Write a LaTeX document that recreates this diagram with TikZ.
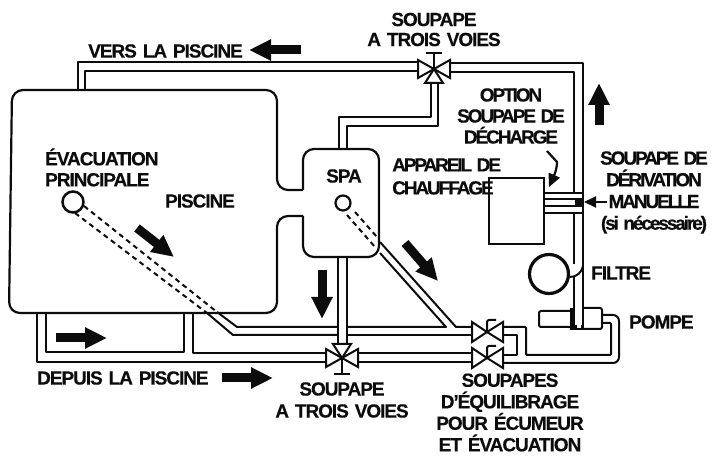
\documentclass[tikz,border=0pt]{standalone}
\usepackage{fontspec}
\setmainfont{Liberation Sans}[LetterSpace=-5.5,WordSpace=1.4,BoldFeatures={FakeBold=0.3}]
\usetikzlibrary{arrows.meta}
\definecolor{inkBlack}{RGB}{12,12,12}
\tikzset{
  pipeline/.style={draw=inkBlack,line width=2pt,line join=round},
  wallline/.style={draw=inkBlack,line width=2.2pt,rounded corners=11pt},
  buried/.style={draw=inkBlack,line width=2pt,dash pattern=on 5pt off 4pt},
  flowarrow/.style={draw=inkBlack,line width=9pt,-{Triangle[length=22pt,width=20pt]},inkBlack},
  caption/.style={font=\bfseries\fontsize{19}{20}\selectfont,text=inkBlack,inner sep=0pt,align=center},
  tightcaption/.style={caption,font=\bfseries\fontsize{19}{#1}\selectfont\addfontfeature{LetterSpace=-11}},
  valvebody/.style={draw=inkBlack,fill=white,line width=2pt,line join=miter}
}
\newcommand{\TroisVoies}[3]{%
\begin{scope}[shift={(#1,#2)},yscale=#3]
  \path[valvebody] (0,0) -- (-16,-9) -- (-16,9) -- cycle;
  \path[valvebody] (0,0) -- (16,-9) -- (16,9) -- cycle;
  \path[valvebody] (0,0) -- (-9,14) -- (9,14) -- cycle;
  \draw[pipeline] (0,0) -- (0,-16) (-8,-16) -- (8,-16);
\end{scope}}
\newcommand{\Equilibrage}[2]{%
\begin{scope}[shift={(#1,#2)}]
  \path[valvebody] (0,0) -- (-15,-10) -- (-15,10) -- cycle;
  \path[valvebody] (0,0) -- (16,-10) -- (16,10) -- cycle;
  \draw[pipeline,rounded corners=2pt] (0,0) -- (0,-12) -- (9,-12);
\end{scope}}
\begin{document}
\begin{tikzpicture}[x=1pt,y=-1pt]
\useasboundingbox (0,0) rectangle (713,457);
% piscine et spa
\draw[wallline] (303,190) -- (277,190) -- (277,90) -- (12,90) -- (9,313) -- (277,313) -- (277,216) -- (303,216);
\draw[wallline] (303,190) -- (303,149) -- (379,149) -- (379,257) -- (303,257) -- (303,216);
\node[draw=inkBlack,line width=2.5pt,circle,minimum size=21pt,inner sep=0pt] (bonde) at (73,202) {};
\node[draw=inkBlack,line width=2.2pt,circle,minimum size=15pt,inner sep=0pt] (bondeSpa) at (343,203) {};
\draw[buried] (84,206) -- (217,312);
\draw[buried] (75,213) -- (207,313);
\draw[buried] (355,212) -- (377,237);
\draw[buried] (347,215) -- (375,247);
% retour vers la piscine
\draw[pipeline] (78,90) -- (78,62) -- (418,62);
\draw[pipeline] (85,90) -- (85,71) -- (418,71);
\draw[pipeline] (450,63) -- (583,63) -- (583,329);
\draw[pipeline] (450,72) -- (574,72) -- (574,193);
\draw[pipeline] (339,149) -- (339,117) -- (431,117) -- (431,83);
\draw[pipeline] (347,149) -- (347,126) -- (438,126) -- (438,83);
% departs de la piscine
\draw[pipeline] (37,313) -- (37,362) -- (326,362);
\draw[pipeline] (46,313) -- (46,352) -- (184,352) -- (184,313);
\draw[pipeline] (193,313) -- (193,353) -- (326,353);
\draw[pipeline] (357,353) -- (472,353);
\draw[pipeline] (357,362) -- (472,362);
\draw[pipeline] (217,312) -- (237,327) -- (338,327);
\draw[pipeline] (207,313) -- (233,335) -- (338,335);
\draw[pipeline] (347,327) -- (446,327) -- (380,253);
\draw[pipeline] (380,242) -- (456,327) -- (472,327);
\draw[pipeline] (347,335) -- (472,335);
\draw[pipeline] (338,257) -- (338,343);
\draw[pipeline] (347,257) -- (347,343);
% sortie de pompe
\draw[pipeline,rounded corners=6pt] (602,315) -- (619,315) -- (619,363) -- (503,363);
\draw[pipeline,rounded corners=1pt] (602,323) -- (611,323) -- (611,355) -- (526,355) -- (526,327) -- (503,327);
\draw[pipeline] (503,335) -- (517,335) -- (517,355) -- (503,355);
% chauffage, derivation, filtre, pompe
\node[draw=inkBlack,line width=2pt,minimum width=55pt,minimum height=66pt,inner sep=0pt] (chauffage) at (516.5,211) {};
\foreach \yy in {193,199,206,213}{
  \draw[pipeline] (545,\yy) -- (583,\yy);
}
\path[fill=inkBlack] (575,198) rectangle (584,207);
\draw[pipeline] (574,213) -- (574,264);
\node[draw=inkBlack,line width=3.2pt,circle,minimum size=39pt,inner sep=0pt] (filtre) at (549,274) {};
\draw[pipeline] (570,277) .. controls (577,277) and (582,272) .. (583,266);
\draw[pipeline] (574,277) -- (574,329);
\draw[pipeline,rounded corners=2pt] (571,311) -- (539,311) -- (539,327) -- (571,327);
\draw[pipeline,rounded corners=2pt] (583,308) -- (602,308) -- (602,329) -- (583,329);
\path[fill=inkBlack] (570,308) rectangle (575,330);
\path[fill=inkBlack] (574,325) rectangle (584,330);
\path[fill=white] (577,325) rectangle (581,328);
% soupapes
\TroisVoies{434}{69}{1}
\TroisVoies{342}{358}{-1}
\Equilibrage{487}{332}
\Equilibrage{487}{358}
% sens du courant
\draw[flowarrow] (301,50) -- (249,50);
\draw[flowarrow] (137,228) -- (174,257);
\draw[flowarrow] (322,270) -- (322,319);
\draw[flowarrow] (405,243) -- (438,281);
\draw[flowarrow] (599,125) -- (599,83);
\draw[flowarrow] (56,338) -- (107,338);
\draw[flowarrow] (222,378) -- (273,378);
\draw[draw=inkBlack,line width=2pt,-{Triangle[length=12pt,width=11pt]}] (607,202) -- (584,202);
\draw[draw=inkBlack,line width=2.2pt,-{Triangle[length=13pt,width=12pt]}] (547,151) -- (557,162) .. controls (557,170) and (553,178) .. (549,187);
% textes
\node[caption] (vers) at (165.5,51) {VERS LA PISCINE};
\node[caption] (soupapeHaut) at (434,29.5) {SOUPAPE\\A TROIS VOIES};
\node[caption,anchor=west,align=left,font=\bfseries\fontsize{19}{21}\selectfont] (evacuation) at (45,167.5) {ÉVACUATION\\PRINCIPALE};
\node[caption] (piscine) at (200,201) {PISCINE};
\node[caption] (spa) at (344,176) {SPA};
\node[tightcaption=21] (option) at (511,116) {OPTION\\SOUPAPE DE\\DÉCHARGE};
\node[tightcaption=23,anchor=west,align=left] (appareil) at (392,176.5) {APPAREIL DE\\CHAUFFAGE};
\node[tightcaption=21.7] (derivation) at (654,192.5) {SOUPAPE DE\\DÉRIVATION\\MANUELLE\\(si nécessaire)};
\node[caption,anchor=west] (filtreTxt) at (591,273) {FILTRE};
\node[caption,anchor=west] (pompe) at (629,322) {POMPE};
\node[caption,anchor=west] (depuis) at (37,378) {DEPUIS LA PISCINE};
\node[caption,font=\bfseries\fontsize{19}{22}\selectfont] (soupapeBas) at (342,400) {SOUPAPE\\A TROIS VOIES};
\node[caption,font=\bfseries\fontsize{19}{21.5}\selectfont] (equilibrage) at (510,412.5) {SOUPAPES\\D'ÉQUILIBRAGE\\POUR ÉCUMEUR\\ET ÉVACUATION};
\end{tikzpicture}
\end{document}
